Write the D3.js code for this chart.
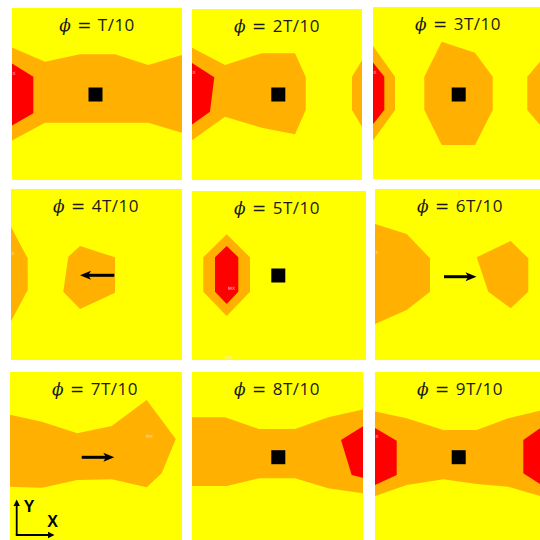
<!DOCTYPE html>
<html>
<head>
<meta charset="utf-8">
<script src="https://cdn.jsdelivr.net/npm/d3@7"></script>
<style>
  html, body { margin: 0; padding: 0; background: #ffffff; }
  svg { display: block; }
</style>
</head>
<body>
<svg id="chart" width="540" height="540"></svg>
<script>
// Phase of each snapshot (fraction of the period T)
const phaseLabels = ["T/10", "2T/10", "3T/10", "4T/10", "5T/10", "6T/10", "7T/10", "8T/10", "9T/10"];

// Contour bands per snapshot, in field coordinates (0..170 across each frame)
const midBands = [
  [[[-2,38.7],[33,53.7],[68,46.3],[103,46.3],[136.3,57],[172,46.3],[172,125.3],[136.3,114.7],[33,114.7],[-2,133.7]]],
  [[[-2,37.7],[33,56],[69.7,44.3],[103,44.3],[113.7,67.7],[113.7,101],[103,125.3],[69.7,118.7],[33,107.7],[-2,132.7]],
   [[172,48],[160,67.7],[160,101],[172,121]]],
  [[[-2,36.3],[22,69.7],[22,103],[-2,136.3]],
   [[68.7,34.7],[102,45.7],[119.7,69.7],[119.7,103],[102,138],[68.7,138],[51.3,103],[51.3,69.7]],
   [[172,49],[154.3,69.7],[154.3,103],[172,124]]],
  [[[-2,34.3],[16.7,69.3],[16.7,101],[-2,136]],
   [[69,57],[104,68.3],[104,103.7],[69,120],[52.3,102.7],[57.3,67.7]]],
  [[[34.7,43.3],[58,66.3],[58,100.7],[34.7,125],[11.3,100.7],[11.3,66.3]]],
  [[[-2,34.3],[31.7,45],[55,69.3],[55,102.7],[31.7,121],[-2,136]],
   [[101.7,68.3],[135.7,52],[153.3,69.3],[153.3,102.7],[135.7,119.3],[113.3,102.7]]],
  [[[-2,42.3],[31.7,49.7],[67.3,61.3],[101.7,54],[136.7,28],[165.7,67],[151.7,101.3],[136.7,115.3],[101.7,107.3],[67.3,108],[31.7,115.7],[-2,114.7]]],
  [[[-2,45.3],[33,45.3],[67,57],[103,57],[136.3,45.3],[173,37],[173,121.5],[136.3,116.3],[103,106.3],[67,106.3],[34.7,114],[-2,114]]],
  [[[-2,39],[31.7,46.3],[68.3,58],[101.7,58],[133.3,46.3],[172,37],[172,126],[133.3,114.7],[101.7,112],[68.3,107.3],[31.7,113],[-2,124.7]]]
];

const highBands = [
  [[[-2,54.3],[21.3,68.7],[21.3,105.3],[-2,118.7]]],
  [[[-2,52.7],[22.3,68.3],[18,102.7],[-2,117]]],
  [[[-2,53],[11.3,69.7],[11.3,103],[-2,119.7]]],
  [],
  [[[34.7,55],[46.3,66.3],[46.3,100.7],[34.7,113],[23,100.7],[23,66.3]]],
  [],
  [],
  [[[173,53],[149,68],[159.7,103],[173,106.3]]],
  [[[-2,54.7],[21.7,68.7],[21.7,103],[-2,114]],
   [[172,51.4],[148.3,68],[148.3,101.3],[172,116.5]]]
];

// Source position (square) or direction of travel (arrow) in each snapshot
const sourcePoints = [[83.5,86.5],[86.3,85.5],[85.7,87.5],null,[86.3,84.5],null,null,[86.3,85.2],[83.7,85.2]];
const motionArrows = [null, null, null, [[103.3,86.3],[69,86.3]], null, [[69,87.7],[101.5,87.7]], [[71.7,85.3],[104.3,85.3]], null, null];

// Extreme-value tags left by the contour plot
const extremeTags = [
  [["MX",0,67]], [["MX",0,65]], [["MX",0,67]], [["MX",0,66]],
  [["MX",39.5,98.5],["MN",37,168]], [["MX",0,65]], [["MX",139.5,66]], [], [["MX",0,66]]
];

// Frame rectangles [x, y, w, h] for the 3x3 layout
const frames = [
  [12,8,170,172], [192,9,170,171], [373,7,167,172],
  [11,189,171,171], [192,191,174,169], [375,189,165,171],
  [10,372,172,168], [192,372,171,168], [375,372,165,168]
];

const COLORS = { low: "#ffff00", mid: "#ffb000", high: "#ff0000", ink: "#000000" };

const svg = d3.select("#chart");
const defs = svg.append("defs");

phaseLabels.forEach((label, i) => {
  const [fx, fy, fw, fh] = frames[i];
  const x = d3.scaleLinear().domain([0, 170]).range([fx, fx + 170]);
  const y = d3.scaleLinear().domain([0, 170]).range([fy, fy + 170]);
  const line = d3.line().x(d => x(d[0])).y(d => y(d[1])).curve(d3.curveLinearClosed);

  defs.append("clipPath").attr("id", "clip" + i)
    .append("rect").attr("x", fx).attr("y", fy).attr("width", fw).attr("height", fh);

  const g = svg.append("g").attr("clip-path", `url(#clip${i})`);

  g.append("rect").attr("x", fx).attr("y", fy).attr("width", fw).attr("height", fh)
    .attr("fill", COLORS.low);

  g.selectAll("path.mid").data(midBands[i]).join("path").attr("class", "mid")
    .attr("d", line).attr("fill", COLORS.mid);

  g.selectAll("path.high").data(highBands[i]).join("path").attr("class", "high")
    .attr("d", line).attr("fill", COLORS.high);

  g.selectAll("text.tag").data(extremeTags[i]).join("text").attr("class", "tag")
    .attr("x", d => x(d[1])).attr("y", d => y(d[2]))
    .attr("text-anchor", "middle")
    .attr("font-family", "DejaVu Sans, sans-serif").attr("font-size", 4.5)
    .attr("fill", "#ffe6e6").attr("fill-opacity", 0.85)
    .text(d => d[0]);

  const src = sourcePoints[i];
  if (src) {
    const s = x(7) - x(0);
    g.append("rect")
      .attr("x", x(src[0]) - s).attr("y", y(src[1]) - s)
      .attr("width", 2 * s).attr("height", 2 * s)
      .attr("fill", COLORS.ink);
  }

  const arr = motionArrows[i];
  if (arr) {
    const [t, h] = arr;
    const x0 = x(t[0]), y0 = y(t[1]), x1 = x(h[0]), y1 = y(h[1]);
    const dir = Math.sign(x1 - x0);
    const headLen = 11, headHalf = 4.5;
    g.append("line")
      .attr("x1", x0).attr("y1", y0).attr("x2", x1 - dir * headLen * 0.6).attr("y2", y1)
      .attr("stroke", COLORS.ink).attr("stroke-width", 3);
    g.append("path")
      .attr("d", `M${x1},${y1} L${x1 - dir * headLen},${y1 - headHalf} L${x1 - dir * headLen * 0.75},${y1} L${x1 - dir * headLen},${y1 + headHalf} Z`)
      .attr("fill", COLORS.ink);
  }

  const title = g.append("text")
    .attr("x", x(85)).attr("y", y(22.5))
    .attr("text-anchor", "middle")
    .attr("font-family", "'Open Sans', 'Noto Sans', sans-serif")
    .attr("font-size", 17)
    .attr("letter-spacing", 0.5)
    .attr("fill", "#1a1a1a");
  title.append("tspan").attr("font-family", "'DejaVu Serif', serif").attr("font-style", "italic").text("\u03d5");
  title.append("tspan").attr("font-family", "'DejaVu Sans', sans-serif").text(" = ");
  title.append("tspan").text(label);

  // Coordinate triad in the first frame of the bottom row
  if (i === 6) {
    const ox = x(6.7), oy = y(163);
    const ax = svg.append("g").attr("fill", COLORS.ink).attr("stroke", COLORS.ink);
    ax.append("line").attr("x1", ox).attr("y1", oy).attr("x2", ox).attr("y2", y(131))
      .attr("stroke-width", 1.8);
    ax.append("path").attr("stroke", "none")
      .attr("d", `M${ox},${y(127.5)} L${ox - 3.2},${y(134)} L${ox + 3.2},${y(134)} Z`);
    ax.append("line").attr("x1", ox - 0.9).attr("y1", oy).attr("x2", x(41)).attr("y2", oy)
      .attr("stroke-width", 1.8);
    ax.append("path").attr("stroke", "none")
      .attr("d", `M${x(44.5)},${oy} L${x(38)},${oy - 3.2} L${x(38)},${oy + 3.2} Z`);
    svg.append("text").attr("x", x(19)).attr("y", y(140))
      .attr("text-anchor", "middle")
      .attr("font-family", "'Liberation Sans', Arial, sans-serif").attr("font-weight", "bold")
      .attr("font-size", 16).attr("fill", COLORS.ink).text("Y");
    svg.append("text").attr("x", x(42.5)).attr("y", y(155))
      .attr("text-anchor", "middle")
      .attr("font-family", "'Liberation Sans', Arial, sans-serif").attr("font-weight", "bold")
      .attr("font-size", 16).attr("fill", COLORS.ink).text("X");
  }
});
</script>
</body>
</html>
